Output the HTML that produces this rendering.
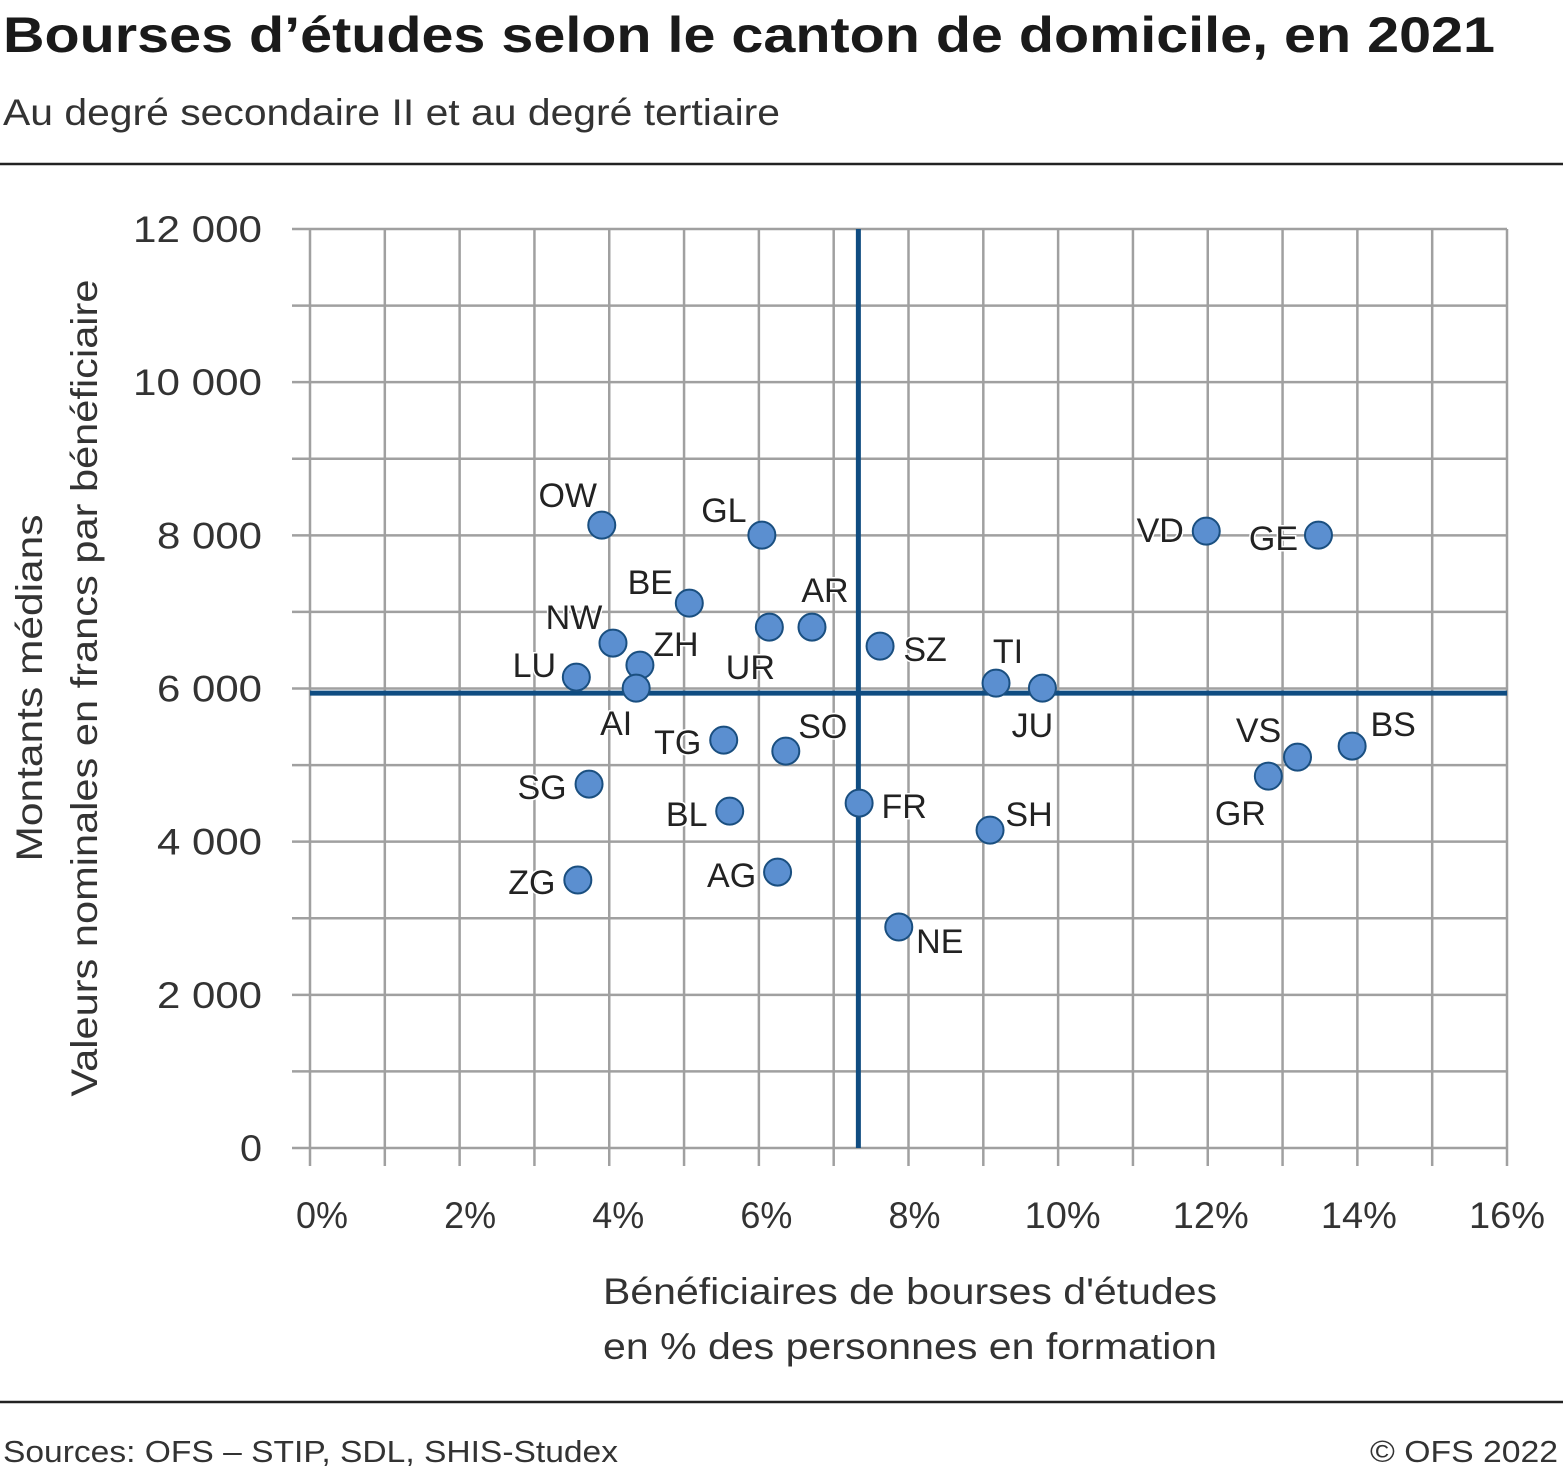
<!DOCTYPE html>
<html><head><meta charset="utf-8">
<style>
body{margin:0;background:#fff;width:1563px;height:1473px;overflow:hidden;font-family:"Liberation Sans",sans-serif;color:#222}
svg text{font-family:"Liberation Sans",sans-serif}
</style></head>
<body>
<svg id="chart" width="1563" height="1473" xmlns="http://www.w3.org/2000/svg">
<text x="3" y="52" font-size="50" font-weight="bold" fill="#1a1a1a" textLength="1492" lengthAdjust="spacingAndGlyphs">Bourses d’études selon le canton de domicile, en 2021</text>
<text x="3" y="125" font-size="37" fill="#333" textLength="777" lengthAdjust="spacingAndGlyphs">Au degré secondaire II et au degré tertiaire</text>
<line x1="0" x2="1563" y1="164" y2="164" stroke="#222" stroke-width="2.5"/>
<line x1="0" x2="1563" y1="1402" y2="1402" stroke="#222" stroke-width="2.5"/>
<g id="grid"></g>
<g id="axes"></g>
<g id="refs"></g>
<g id="points"></g>
<text transform="translate(42,688) rotate(-90)" text-anchor="middle" font-size="37" fill="#333" textLength="347" lengthAdjust="spacingAndGlyphs">Montants médians</text>
<text transform="translate(97,688) rotate(-90)" text-anchor="middle" font-size="37" fill="#333" textLength="817" lengthAdjust="spacingAndGlyphs">Valeurs nominales en francs par bénéficiaire</text>
<text x="910" y="1304" text-anchor="middle" font-size="37" fill="#333" textLength="614" lengthAdjust="spacingAndGlyphs">Bénéficiaires de bourses d'études</text>
<text x="910" y="1359" text-anchor="middle" font-size="37" fill="#333" textLength="614" lengthAdjust="spacingAndGlyphs">en % des personnes en formation</text>
<text x="3" y="1462" font-size="31" fill="#333" textLength="615" lengthAdjust="spacingAndGlyphs">Sources: OFS – STIP, SDL, SHIS-Studex</text>
<text x="1558" y="1462" text-anchor="end" font-size="31" fill="#333" textLength="188" lengthAdjust="spacingAndGlyphs">© OFS 2022</text>
</svg>
<script>
const cantons=["OW","GL","BE","NW","ZH","LU","AI","UR","AR","SZ","TI","JU","VD","GE","BS","VS","GR","TG","SO","SG","BL","FR","SH","ZG","AG","NE"];
const pctValues=[3.9,6.04,5.07,4.05,4.41,3.56,4.36,6.14,6.71,7.62,9.17,9.79,11.98,13.48,13.93,13.2,12.81,5.53,6.36,3.73,5.61,7.34,9.09,3.58,6.25,7.87];
const amountValues=[8133,8003,7115,6593,6305,6149,6005,6802,6802,6553,6070,6005,8055,8003,5248,5104,4856,5326,5183,4752,4399,4504,4151,3499,3603,2885];
const xTicks=[0,2,4,6,8,10,12,14,16];
const yTicks=[0,2000,4000,6000,8000,10000,12000];
const yTickLabels=["0","2 000","4 000","6 000","8 000","10 000","12 000"];
const refX=7.33, refY=5940;
const labelOffsets=[[-34,-30],[-38,-25],[-39,-21],[-39,-26],[36,-21],[-42,-12],[-20,35],[-19,40],[13,-37],[45,3],[12,-32],[-10,37],[-46,-1],[-45,3],[41,-22],[-39,-27],[-28,37],[-46,2],[37,-25],[-47,3],[-43,3],[45,3],[39,-16],[-46,2],[-46,3],[41,14]];
const X0=310,X1=1507,Y0=1148,Y1=229;
const sx=v=>X0+(v/16)*(X1-X0);
const sy=v=>Y0-(v/12000)*(Y0-Y1);
const NS="http://www.w3.org/2000/svg";
function mk(tag,attrs,parent){const e=document.createElementNS(NS,tag);for(const k in attrs)e.setAttribute(k,attrs[k]);parent.appendChild(e);return e;}
const grid=document.getElementById('grid'),axes=document.getElementById('axes'),refs=document.getElementById('refs'),pts=document.getElementById('points');
for(let i=0;i<=16;i++){const l=mk('line',{x1:sx(i),x2:sx(i),y1:Y1,y2:Y0+18,stroke:'#a0a0a0','stroke-width':2.5},grid);

}
for(let i=0;i<=12;i++){const l=mk('line',{x1:X0-18,x2:X1,y1:sy(i*1000),y2:sy(i*1000),stroke:'#a0a0a0','stroke-width':2.5},grid);

}
xTicks.forEach(v=>{const lab=v+'%';const t=mk('text',{x:sx(v)+12-0.75*v,y:1228,'text-anchor':'middle','font-size':37,fill:'#333',textLength:lab.length===2?52:76,lengthAdjust:'spacingAndGlyphs'},axes);t.textContent=lab;

});
yTicks.forEach((v,i)=>{const lab=yTickLabels[i];const w=lab.length===1?22:(lab.length===5?105:129);const t=mk('text',{x:262,y:sy(v)+13,'text-anchor':'end','font-size':37,fill:'#333',textLength:w,lengthAdjust:'spacingAndGlyphs'},axes);t.textContent=lab;

});
const rv=mk('line',{x1:sx(refX),x2:sx(refX),y1:Y1,y2:Y0,stroke:'#0f4c81','stroke-width':5},refs);


const rh=mk('line',{x1:X0,x2:X1,y1:sy(refY),y2:sy(refY),stroke:'#0f4c81','stroke-width':5},refs);


cantons.forEach((c,i)=>{const x=sx(pctValues[i]),y=sy(amountValues[i]);
const t=mk('text',{x:x+labelOffsets[i][0],y:y+labelOffsets[i][1]+12,'text-anchor':'middle','font-size':34,fill:'#222',stroke:'#fff','stroke-width':3,'paint-order':'stroke'},pts);t.textContent=c;


const p=mk('circle',{cx:x,cy:y,r:13.5,fill:'#5b8fd0',stroke:'#1a4f80','stroke-width':2},pts);

});
</script>
</body></html>
